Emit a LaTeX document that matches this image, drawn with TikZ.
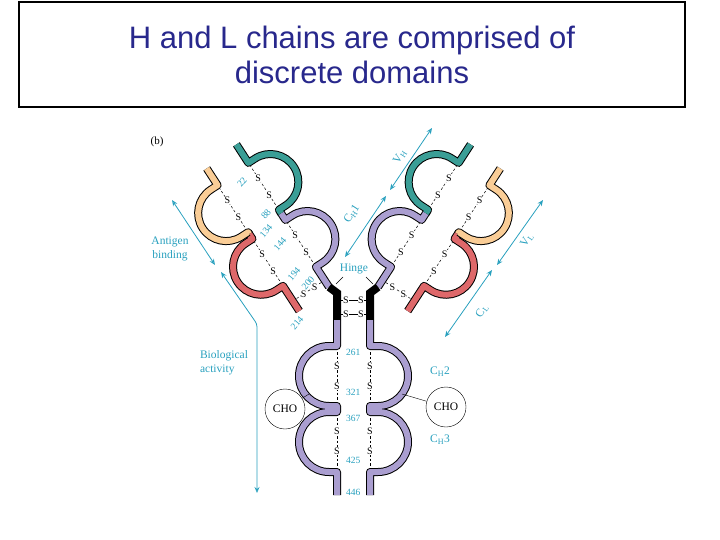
\documentclass[tikz,border=0pt]{standalone}
\usepackage{fontspec}
\setmainfont{Liberation Serif}
\newfontfamily\titlefont{Liberation Sans}
\usetikzlibrary{arrows.meta}
\definecolor{titleblue}{RGB}{40,40,140}
\definecolor{lav}{RGB}{170,158,208}
\definecolor{tealc}{RGB}{58,158,150}
\definecolor{orng}{RGB}{250,205,150}
\definecolor{redc}{RGB}{222,104,106}
\definecolor{lbl}{RGB}{40,160,190}
\newcommand\Lloop[3]{-- (#1,#2) -- (#1-8,#2) arc[start angle=-90,end angle=-270,radius=#3] -- (#1,#2+2*#3)}
\newcommand\Rloop[3]{-- (#1,#2) -- (#1+8,#2) arc[start angle=-90,end angle=90,radius=#3] -- (#1,#2+2*#3)}
\newcommand\chainpath[2]{\draw[line width=8pt,black,line join=round] #2; \draw[line width=6pt,#1,line join=round] #2;}
\tikzset{
  ss/.style={black,line width=0.5pt,dash pattern=on 2.5pt off 2pt},
  sl/.style={font=\fontsize{10}{10}\selectfont,inner sep=0.3pt,fill=white},
  num/.style={text=lbl,font=\fontsize{9.5}{10}\selectfont,inner sep=0pt},
  big/.style={text=lbl,font=\fontsize{11.5}{14}\selectfont,inner sep=0pt},
  dim/.style={lbl,line width=0.8pt,{Stealth[length=6pt,width=5pt,open]}-{Stealth[length=6pt,width=5pt,open]}},
  cho/.style={draw,circle,minimum size=40pt,inner sep=0pt,font=\fontsize{11.5}{12}\selectfont}
}
\begin{document}
\begin{tikzpicture}[x=1pt,y=1pt]
\useasboundingbox (0,0) rectangle (720,-540);
% title
\node[draw,line width=2pt,minimum width=666pt,minimum height=105pt,inner sep=0pt] (tbox) at (352,-55) {};
\node[text=titleblue,font=\titlefont\fontsize{31}{35}\selectfont,align=center] (title) at (352,-55) {H and L chains are comprised of\\discrete domains};
\node[font=\fontsize{11}{11}\selectfont] (b) at (157,-142) {(b)};
% arms
\foreach \ox/\sc in {378/1,329/-1}{
\begin{scope}[shift={(\ox,-287)},rotate=-33*\sc,xscale=\sc]
 \chainpath{lav}{(0,0) \Lloop{0}{24}{28} -- (0,90)}
 \chainpath{tealc}{(0,88) \Lloop{0}{92}{28} -- (0,170)}
 \chainpath{redc}{(38,-4) \Rloop{38}{26}{28} -- (38,90)}
 \chainpath{orng}{(38,88) \Rloop{38}{90}{28} -- (38,166)}
 \draw[ss] (0,30) -- (0,76); \node[sl] at (0,42) {S}; \node[sl] at (0,62) {S};
 \draw[ss] (0,98) -- (0,144); \node[sl] at (0,110) {S}; \node[sl] at (0,130) {S};
 \draw[ss] (38,32) -- (38,78); \node[sl] at (38,44) {S}; \node[sl] at (38,64) {S};
 \draw[ss] (38,96) -- (38,142); \node[sl] at (38,108) {S}; \node[sl] at (38,128) {S};
 \draw[ss] (4,8) -- (34,8); \node[sl] at (12,8) {S}; \node[sl] at (25,8) {S};
\end{scope}}
% hinge & Fc
\draw[line width=8pt,black,line join=miter] (337,-320) -- (337,-293) -- (329,-287);
\draw[line width=8pt,black,line join=miter] (370,-320) -- (370,-293) -- (378,-287);
\chainpath{lav}{(337,-495) \Lloop{337}{-472}{30} -- (337,-408) \Lloop{337}{-406}{30} -- (337,-320)}
\chainpath{lav}{(370,-495) \Rloop{370}{-472}{30} -- (370,-408) \Rloop{370}{-406}{30} -- (370,-320)}
\foreach \x in {337,370}{
 \draw[ss] (\x,-352) -- (\x,-400); \node[sl] at (\x,-366) {S}; \node[sl] at (\x,-386) {S};
 \draw[ss] (\x,-418) -- (\x,-466); \node[sl] at (\x,-431) {S}; \node[sl] at (\x,-451) {S};}
\foreach \y in {300,314}{
 \draw[black,line width=0.6pt] (341,-\y) -- (366,-\y);
 \node[sl] at (346,-\y) {S}; \node[sl] at (361,-\y) {S};}
% labels
\node[big] (hinge) at (354,-269) {Hinge};
\draw[line width=0.4pt] (343,-277) -- (336,-284);
\draw[line width=0.4pt] (366,-277) -- (373,-284);
\foreach \t/\x/\y in {261/352/352,321/352/392,367/352/418,425/352/460,446/352/492}
  \node[num,anchor=west] at (\x-6,-\y) {\t};
\node[big] at (440,-372) {C$_{\rm H}$2};
\node[big] at (440,-440) {C$_{\rm H}$3};
\foreach \t/\x/\y in {22/242/182,88/266/214,134/266/231,144/280/244,194/294/274,200/308/283,214/297/323}
  \node[num,rotate=50] at (\x,-\y) {\t};
\node[big,rotate=57] at (400,-157) {V$_{\rm H}$};
\node[big,rotate=57] at (352,-214) {C$_{\rm H}$1};
\node[big,rotate=57] at (527,-240) {V$_{\rm L}$};
\node[big,rotate=57] at (482,-311) {C$_{\rm L}$};
\node[big,align=center] (ag) at (170,-249) {Antigen\\binding};
\node[big,align=left] (bio) at (224,-363) {Biological\\activity};
\node[cho] (cho1) at (285,-409) {CHO};
\node[cho] (cho2) at (446,-407) {CHO};
\draw[line width=0.4pt] (cho1) -- (309,-394);
\draw[line width=0.4pt] (cho2) -- (402,-394);
% dimension arrows
\coordinate (a1) at (172,-200); \coordinate (a2) at (215,-265);
\draw[dim] (a1) -- (a2);
\coordinate (b1) at (221,-272); \coordinate (b2) at (257,-493);
\draw[dim,rounded corners=3pt] (b1) -- (257,-324) -- (b2);
\coordinate (c1) at (390,-190); \coordinate (c2) at (432,-128);
\draw[dim] (c1) -- (c2);
\coordinate (d1) at (345,-257); \coordinate (d2) at (386,-196);
\draw[dim] (d1) -- (d2);
\coordinate (e1) at (497,-265); \coordinate (e2) at (543,-200);
\draw[dim] (e1) -- (e2);
\coordinate (f1) at (445,-337); \coordinate (f2) at (492,-270);
\draw[dim] (f1) -- (f2);
\end{tikzpicture}
\end{document}
